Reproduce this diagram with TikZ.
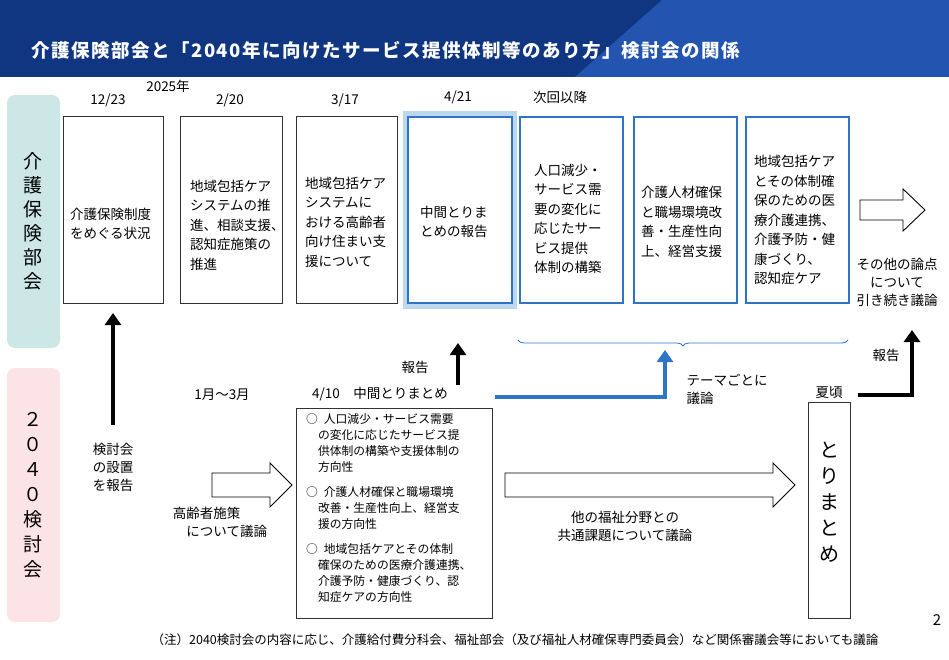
\documentclass[tikz,border=0pt]{standalone}
\usepackage{fontspec}
\setmainfont{Noto Sans CJK JP}
\usetikzlibrary{decorations.pathreplacing,arrows.meta}
\definecolor{hdr}{HTML}{103682}
\definecolor{hdr2}{HTML}{2354B0}
\definecolor{bbl}{HTML}{2E75C8}
\definecolor{teal}{HTML}{CDE7E7}
\definecolor{pink}{HTML}{FBE3E6}
\definecolor{halo}{HTML}{BDD7EE}
\newcommand{\oarr}[5]{% x1 x2 ycenter shaft-half head-half
  \draw[black,line width=0.9pt,fill=white] (#1,#3-#4) -- (#2-22,#3-#4) -- (#2-22,#3-#5) -- (#2,#3) -- (#2-22,#3+#5) -- (#2-22,#3+#4) -- (#1,#3+#4) -- cycle;}
\begin{document}
\begin{tikzpicture}[x=1pt,y=-1pt,
  txt/.style={font=\fontsize{13.5}{18}\selectfont,align=center},
  box/.style={draw=black!80,line width=1pt},
  bbox/.style={draw=bbl,line width=1.6pt},
  btxt/.style={font=\fontsize{13.5}{19.5}\selectfont,align=left,text width=96pt,inner sep=0pt},
  karrow/.style={line width=4pt,-{Triangle[length=12pt,width=16pt]}}]
\useasboundingbox (0,0) rectangle (949,660);
\fill[hdr] (0,0) rectangle (949,77);
\fill[hdr2] (662,0) -- (949,0) -- (949,77) -- (575,77) -- cycle;
\node[anchor=west,text=white,font=\bfseries\fontsize{18.5}{20}\selectfont\addfontfeatures{LetterSpace=8}] (title) at (28,50) {介護保険部会と「2040年に向けたサービス提供体制等のあり方」検討会の関係};
% side labels
\fill[teal,rounded corners=8pt] (7,95) rectangle (60,348);
\fill[pink,rounded corners=8pt] (7,368) rectangle (60,622);
\node[txt,font=\fontsize{19}{24}\selectfont] (lab1) at (33,221) {介\\護\\保\\険\\部\\会};
\node[txt,font=\fontsize{19}{25}\selectfont] (lab2) at (33,495) {２\\０\\４\\０\\検\\討\\会};
% dates
\node[txt] (d1) at (108,100) {12/23};
\node[txt] (d0) at (168,86) {2025年};
\node[txt] (d2) at (230,100) {2/20};
\node[txt] (d3) at (345,100) {3/17};
\node[txt] (d4) at (458,97) {4/21};
\node[txt] (d5) at (560,97) {次回以降};
% top boxes
\draw[box] (63,117) rectangle (163,303);
\node[btxt,text width=92pt] (t1) at (116,224) {介護保険制度\\をめぐる状況};
\draw[box] (180,117) rectangle (282,303);
\node[btxt] (t2) at (238,225) {地域包括ケア\\システムの推\\進、相談支援、\\認知症施策の\\推進};
\draw[box] (296,117) rectangle (397,303);
\node[btxt] (t3) at (353,222) {地域包括ケア\\システムに\\おける高齢者\\向け住まい支\\援について};
\fill[halo] (403,111) rectangle (517,309);
\fill[white] (408,117) rectangle (512,303);
\draw[bbox] (408,117) rectangle (512,303);
\node[btxt] (t4) at (468,222) {中間とりま\\とめの報告};
\draw[bbox] (520,117) rectangle (623,303);
\node[btxt] (t5) at (582,219) {人口減少・\\サービス需\\要の変化に\\応じたサー\\ビス提供\\体制の構築};
\draw[bbox] (634,117) rectangle (737,303);
\node[btxt] (t6) at (689,222) {介護人材確保\\と職場環境改\\善・生産性向\\上、経営支援};
\draw[bbox] (746,117) rectangle (849,303);
\node[btxt] (t7) at (802,220) {地域包括ケア\\とその体制確\\保のための医\\療介護連携、\\介護予防・健\\康づくり、\\認知症ケア};
\draw[bbl,line width=0.8pt,decorate,decoration={brace,mirror,amplitude=6pt}] (518,340) -- (848,340);
\oarr{860}{925}{210}{10}{21}
\node[txt] (n1) at (897,282) {その他の論点\\について\\引き続き議論};
% lower
\coordinate (b1s) at (113,425); \coordinate (b1e) at (113,313);
\draw[karrow] (b1s) -- (b1e);
\node[txt] (n2) at (113,467) {検討会\\の設置\\を報告};
\node[txt] (n3) at (222,395) {1月～3月};
\node[txt] (n4) at (380,394) {4/10\quad 中間とりまとめ};
\coordinate (b2s) at (458,385); \coordinate (b2e) at (458,343);
\draw[karrow] (b2s) -- (b2e);
\node[txt] (n5) at (415,367) {報告};
\coordinate (bl1) at (495,397); \coordinate (bl2) at (665,397); \coordinate (bl3) at (665,350);
\draw[bbl,line width=4pt,-{Triangle[length=12pt,width=16pt]}] (bl1) -- (bl2) -- (bl3);
\node[txt,align=left,anchor=west] (n6) at (683,389) {テーマごとに\\議論};
\oarr{212}{292}{485}{12}{22}
\node[txt,align=left] (n7) at (220,522) {高齢者施策\\\quad について議論};
\draw[box] (296,408) rectangle (492,618);
\node[font=\fontsize{11.8}{16}\selectfont,align=left,anchor=north west,text width=190pt,inner sep=0pt] (mid) at (306,413) {○\enspace 人口減少・サービス需要\\\quad の変化に応じたサービス提\\\quad 供体制の構築や支援体制の\\\quad 方向性\\[9pt]○\enspace 介護人材確保と職場環境\\\quad 改善・生産性向上、経営支\\\quad 援の方向性\\[9pt]○\enspace 地域包括ケアとその体制\\\quad 確保のための医療介護連携、\\\quad 介護予防・健康づくり、認\\\quad 知症ケアの方向性};
\oarr{505}{795}{485}{12}{22}
\node[txt,align=left] (n8) at (625,526) {\quad 他の福祉分野との\\共通課題について議論};
\node[txt] (n9) at (829,393) {夏頃};
\draw[box] (808,402) rectangle (850,618);
\node[txt,font=\fontsize{20}{26}\selectfont] (n10) at (829,502) {と\\り\\ま\\と\\め};
\coordinate (e1) at (858,395); \coordinate (e2) at (912,395); \coordinate (e3) at (912,330);
\draw[line width=4pt,-{Triangle[length=12pt,width=16pt]}] (e1) -- (e2) -- (e3);
\node[txt] (n11) at (886,355) {報告};
\node[txt,font=\fontsize{15}{16}\selectfont] (pg) at (937,620) {2};
\node[txt,font=\fontsize{12.5}{14}\selectfont] (fn) at (515,640) {（注）2040検討会の内容に応じ、介護給付費分科会、福祉部会（及び福祉人材確保専門委員会）など関係審議会等においても議論};
\end{tikzpicture}
\end{document}
